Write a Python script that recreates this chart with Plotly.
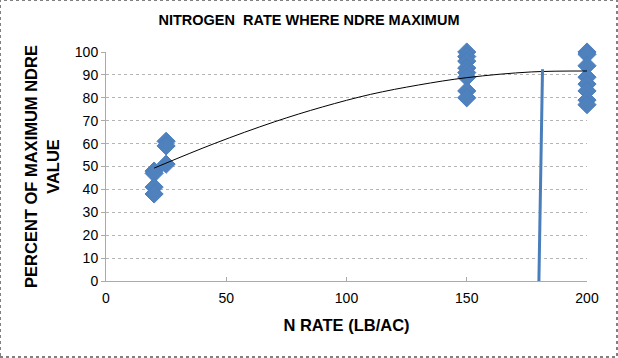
import plotly.graph_objects as go

# Data
n_rate = [20, 20, 20, 20, 25, 25, 25,
          150, 150, 150, 150, 150, 150, 150, 150,
          200, 200, 200, 200, 200, 200, 200, 200]
pct_max = [48, 47, 41, 38, 61, 59, 51,
           100, 98, 96, 93, 91, 89, 83, 80,
           100, 99, 94, 89, 86, 83, 79, 77]
trend_x = [20, 45, 70, 90, 110, 130, 150, 177, 200]
trend_y = [49.3, 60.0, 69.5, 76.0, 81.5, 85.6, 88.8, 91.3, 91.7]
max_line_x = [181.5, 180]
max_line_y = [92.5, 0]
x_ticks = [0, 50, 100, 150, 200]
y_ticks = list(range(0, 101, 10))

fig = go.Figure()
fig.add_trace(go.Scatter(x=n_rate, y=pct_max, mode="markers", cliponaxis=False,
                         marker=dict(symbol="diamond", size=14, color="#4F81BD",
                                     line=dict(color="#4A7EC0", width=1)),
                         showlegend=False))
fig.add_trace(go.Scatter(x=trend_x, y=trend_y, mode="lines",
                         line=dict(color="black", width=1, shape="spline"), showlegend=False))
fig.add_trace(go.Scatter(x=max_line_x, y=max_line_y, mode="lines",
                         line=dict(color="#4A7EBB", width=3), showlegend=False))

font = "Liberation Sans, Arial, sans-serif"
PW, PH = 618 - 106 - 31, 358 - 52 - 77
fig.update_layout(
    width=618, height=358,
    margin=dict(l=106, r=31, t=52, b=77),
    paper_bgcolor="white", plot_bgcolor="white",
    font=dict(family=font, size=14, color="black"),
    title=dict(text="<b>NITROGEN  RATE WHERE NDRE MAXIMUM</b>", x=0.5, xanchor="center",
               y=1 - 20 / 358, yanchor="middle", font=dict(size=14.5, family=font)),
    xaxis=dict(range=[0, 200], tickvals=x_ticks, showgrid=False,
               showline=True, linecolor="#AAA", linewidth=1,
               ticks="inside", ticklen=4, tickcolor="#AAA", zeroline=False,
               ticklabelstandoff=4,
               title=dict(text="<b>N RATE (LB/AC)</b>", font=dict(size=16.5), standoff=14)),
    yaxis=dict(range=[0, 100], tickvals=y_ticks, showgrid=True, gridcolor="#B5B5B5",
               griddash="dot", gridwidth=1,
               showline=True, linecolor="#AAA", linewidth=1,
               ticks="outside", ticklen=4, tickcolor="#AAA", zeroline=False,
               title=dict(text="<b>PERCENT OF MAXIMUM NDRE<br>VALUE</b>", font=dict(size=16.5), standoff=11)),
)
# outer image border
fig.add_shape(type="rect", xref="paper", yref="paper",
              x0=-106 / PW, x1=1 + 30 / PW, y0=-76 / PH, y1=1 + 52 / PH,
              line=dict(color="#808080", width=2, dash="dot"))
fig.write_html("out.html", config={"displayModeBar": False},
               post_script="document.body.style.margin='0';")
